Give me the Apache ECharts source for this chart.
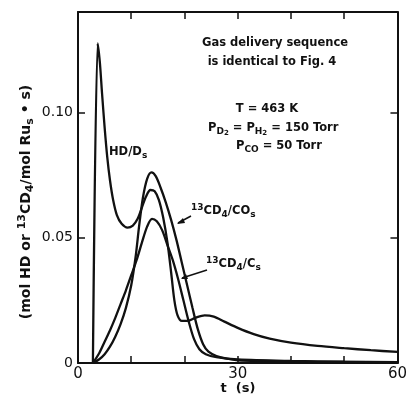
<!DOCTYPE html>
<html><head><meta charset="utf-8">
<script src="https://cdn.jsdelivr.net/npm/echarts@6/dist/echarts.min.js"></script>
<style>html,body{margin:0;padding:0;background:#fff}#c{width:410px;height:402px}</style>
</head><body><div id="c"></div>
<script>
// HD / D_s
const hdT = [2.8, 3.7, 4.1, 4.5, 5.0, 5.5, 6.0, 6.6, 7.3, 8.2, 9.3, 10.3, 11.2, 12.0, 12.8, 13.6, 14.4, 15.2, 16.0, 16.8, 17.5, 18.1, 18.7, 19.5, 20.5, 22.0, 23.8, 25.5, 27.5, 30, 33, 36, 40, 45, 50, 55, 60];
const hdV = [0, 0.1275, 0.120, 0.108, 0.094, 0.082, 0.073, 0.065, 0.059, 0.0555, 0.054, 0.0548, 0.0575, 0.062, 0.0665, 0.069, 0.0685, 0.065, 0.058, 0.048, 0.036, 0.025, 0.019, 0.0168, 0.0168, 0.018, 0.019, 0.0185, 0.0165, 0.014, 0.0115, 0.0097, 0.0081, 0.0068, 0.0059, 0.0051, 0.0044];
// 13CD4 / CO_s
const coT = [2.8, 4, 5, 6, 7, 8, 9, 10, 10.8, 11.5, 12.2, 13.0, 13.8, 14.6, 15.5, 16.5, 17.5, 18.5, 19.5, 20.5, 21.5, 22.5, 23.5, 24.5, 26, 28, 30, 40, 50, 60];
const coV = [0, 0.0015, 0.0035, 0.0065, 0.0105, 0.0155, 0.022, 0.031, 0.042, 0.055, 0.066, 0.0735, 0.076, 0.0745, 0.070, 0.064, 0.057, 0.049, 0.040, 0.031, 0.022, 0.0135, 0.0075, 0.0045, 0.0028, 0.0017, 0.0011, 0.0006, 0.0004, 0.0003];
// 13CD4 / C_s
const csT = [2.8, 4, 5, 6, 7, 8, 9, 10, 11, 12, 13, 13.9, 14.8, 15.8, 16.8, 17.8, 18.8, 19.8, 20.8, 21.8, 22.8, 24, 26, 30, 40, 50, 60];
const csV = [0, 0.004, 0.0085, 0.013, 0.018, 0.0235, 0.029, 0.035, 0.041, 0.048, 0.0545, 0.0575, 0.0565, 0.053, 0.047, 0.041, 0.0335, 0.025, 0.0165, 0.0095, 0.0055, 0.0035, 0.0023, 0.0014, 0.0008, 0.0005, 0.0003];

const xTickLabels = [0, 30, 60];
const yTickLabels = [0, 0.05, 0.10];

const pair = (t, v) => t.map((x, i) => [x, v[i]]);
const FONT = 'DejaVu Sans';
const chart = echarts.init(document.getElementById('c'), null, {renderer: 'canvas'});
const axLine = {show: true, onZero: false, lineStyle: {color: '#111', width: 2}};
const tick = {show: true, inside: true, length: 7, lineStyle: {color: '#111', width: 1.5}};
const lineSeries = (data) => ({
  type: 'line', data, showSymbol: false, smooth: 0.3,
  lineStyle: {color: '#111', width: 2.3}, animation: false, clip: true
});

function mkRich(fs) {
  const base = {fontWeight: 'bold', fontFamily: FONT, color: '#111'};
  return {
    m: Object.assign({}, base, {fontSize: fs, lineHeight: fs + 5, verticalAlign: 'middle'}),
    sub: Object.assign({}, base, {fontSize: Math.round(fs * 0.75), lineHeight: Math.round(fs * 0.75), verticalAlign: 'bottom'}),
    ss: Object.assign({}, base, {fontSize: Math.round(fs * 0.65), lineHeight: Math.round(fs * 0.3), verticalAlign: 'bottom'}),
    sup: Object.assign({}, base, {fontSize: Math.round(fs * 0.75), lineHeight: Math.round(fs * 0.8), verticalAlign: 'top'})
  };
}
function txt(x, y, text, align, fs, rot) {
  fs = fs || 11;
  return {type: 'text', x, y, rotation: rot || 0,
    style: {text, rich: mkRich(fs), align: align || 'left', verticalAlign: 'middle', fill: '#111',
      font: 'bold ' + fs + 'px ' + FONT}};
}

chart.setOption({
  animation: false,
  grid: {left: 78, right: 7, top: 12, bottom: 39, containLabel: false},
  xAxis: [
    {type: 'value', min: 0, max: 60, interval: 10, position: 'bottom',
     axisLine: axLine, axisTick: tick, splitLine: {show: false},
     axisLabel: {color: '#111', fontSize: 15, fontFamily: FONT, margin: 4,
       formatter: v => xTickLabels.includes(v) ? String(v) : ''}},
    {type: 'value', min: 0, max: 60, interval: 10, position: 'top',
     axisLine: axLine, axisTick: tick, splitLine: {show: false}, axisLabel: {show: false}}
  ],
  yAxis: [
    {type: 'value', min: 0, max: 0.14, interval: 0.05, position: 'left',
     axisLine: axLine, axisTick: tick, splitLine: {show: false},
     axisLabel: {color: '#111', fontSize: 14, fontFamily: FONT, margin: 5, showMaxLabel: false,
       formatter: v => {
         const m = yTickLabels.find(y => Math.abs(y - v) < 1e-9);
         if (m === undefined) return '';
         return m === 0 ? '0' : m.toFixed(2);
       }}},
    {type: 'value', min: 0, max: 0.14, interval: 0.05, position: 'right',
     axisLine: axLine, axisTick: tick, splitLine: {show: false}, axisLabel: {show: false}}
  ],
  series: [lineSeries(pair(hdT, hdV)), lineSeries(pair(coT, coV)), lineSeries(pair(csT, csV))],
  graphic: [
    txt(275, 43, '{m|Gas delivery sequence}', 'center', 11.5),
    txt(272, 62, '{m|is identical to Fig. 4}', 'center', 11.5),
    txt(267, 109, '{m|T = 463 K}', 'center', 11.5),
    txt(208, 128, '{m|P}{sub|D}{ss|2}{m| = P}{sub|H}{ss|2}{m| = 150 Torr}', 'left', 11.5),
    txt(236, 146, '{m|P}{sub|CO}{m| = 50 Torr}', 'left', 11.5),
    txt(109, 152, '{m|HD/D}{sub|s}', 'left', 11.5),
    txt(191, 211, '{sup|13}{m|CD}{sub|4}{m|/CO}{sub|s}', 'left', 11.5),
    txt(206, 264, '{sup|13}{m|CD}{sub|4}{m|/C}{sub|s}', 'left', 11.5),
    txt(238, 389, '{m|t  (s)}', 'center', 13),
    txt(26, 202, '{m|(mol HD or }{sup|13}{m|CD}{sub|4}{m|/mol Ru}{sub|s}{m| • s)}', 'center', 14, Math.PI / 2),
    {type: 'line', shape: {x1: 191, y1: 216, x2: 178, y2: 223}, style: {stroke: '#111', lineWidth: 1.5}},
    {type: 'polygon', shape: {points: [[177, 224], [183, 218], [185, 223]]}, style: {fill: '#111'}},
    {type: 'line', shape: {x1: 207, y1: 270, x2: 182, y2: 278}, style: {stroke: '#111', lineWidth: 1.5}},
    {type: 'polygon', shape: {points: [[181, 279], [186, 274], [188, 279]]}, style: {fill: '#111'}}
  ]
});
</script></body></html>
